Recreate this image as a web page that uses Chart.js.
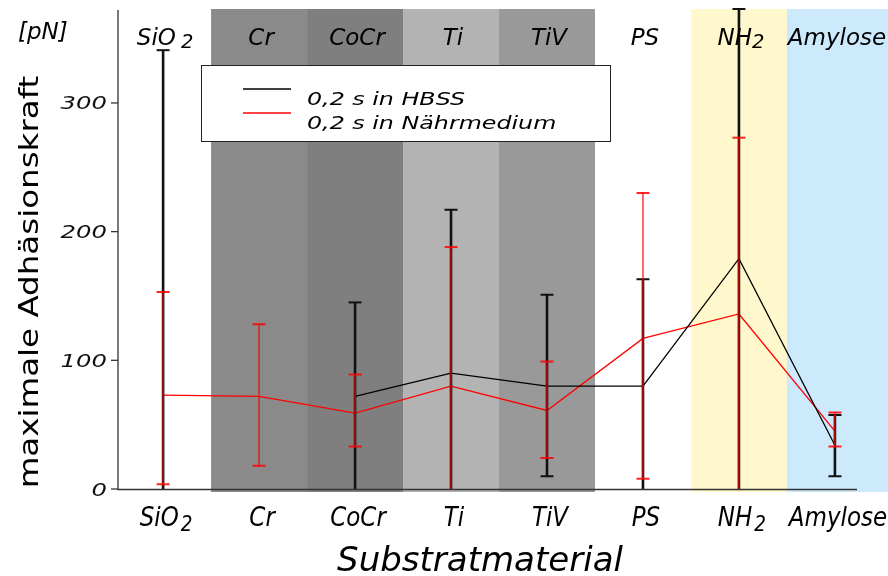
<!DOCTYPE html>
<html>
<head>
<meta charset="utf-8">
<script src="https://cdn.jsdelivr.net/npm/chart.js@4/dist/chart.umd.min.js"></script>
<style>
  html, body { margin: 0; padding: 0; background: #fff; }
  #wrap { width: 888px; height: 576px; position: relative; }
</style>
</head>
<body>
<div id="wrap"><canvas id="c"></canvas></div>
<script>
// Substrates on the x axis (₂ is drawn as a lowered subscript)
const categories = ['SiO₂', 'Cr', 'CoCr', 'Ti', 'TiV', 'PS', 'NH₂', 'Amylose'];

// Maximum adhesion force [pN], 0.2 s contact in HBSS
const hbssMean  = [null, null, 72, 90, 80, 80, 179, 34];
const hbssUpper = [341, null, 145, 217, 151, 163, 373, 57.5];
const hbssLower = [-1, null, -1, -37, 10, -3, -15, 10];

// Maximum adhesion force [pN], 0.2 s contact in culture medium
const mediumMean  = [73, 72, 59, 80, 61, 117, 136, 45];
const mediumUpper = [153, 128, 89, 188, 99, 230, 273, 59.5];
const mediumLower = [3.6, 18, 33, -28, 24, 8, -1, 33];

const yTicks = [0, 100, 200, 300];
const seriesLabels = ['0,2 s in HBSS', '0,2 s in Nährmedium'];
const yTitle = 'maximale Adhäsionskraft';
const xTitle = 'Substratmaterial';
const yUnit = '[pN]';

// Background shading behind each substrate column
const bandColors = ['#ffffff', '#8a8a8a', '#7f7f7f', '#b3b3b3', '#999999', '#ffffff', '#fff8cc', '#cceafc'];

const FAMILY = '"DejaVu Sans", "Liberation Sans", sans-serif';

// Draws text with optional subscript "₂", anisotropic scaling and rotation.
function drawRich(ctx, text, x, y, o) {
  const size = o.size, italic = o.italic ? 'italic ' : '';
  const subScale = o.subScale || 0.8, subShift = o.subShift || 0.22, subGap = o.subGap || 0;
  const parts = [];
  for (const ch of text) {
    const sub = ch === '₂';
    const c = sub ? '2' : ch;
    const last = parts[parts.length - 1];
    if (last && last.sub === sub) last.t += c; else parts.push({ t: c, sub });
  }
  ctx.save();
  ctx.translate(x, y);
  if (o.rot) ctx.rotate(o.rot);
  ctx.scale(o.sx || 1, o.sy || 1);
  ctx.textBaseline = 'alphabetic';
  ctx.textAlign = 'left';
  ctx.fillStyle = o.color || '#000';
  let total = 0;
  for (const p of parts) {
    ctx.font = italic + (p.sub ? size * subScale : size) + 'px ' + FAMILY;
    p.w = ctx.measureText(p.t).width + (p.sub ? subGap : 0);
    total += p.w;
  }
  let cx = o.align === 'center' ? -total / 2 : (o.align === 'right' ? -total : 0);
  for (const p of parts) {
    ctx.font = italic + (p.sub ? size * subScale : size) + 'px ' + FAMILY;
    ctx.fillText(p.t, cx + (p.sub ? subGap : 0), p.sub ? size * subShift : 0);
    cx += p.w;
  }
  ctx.restore();
}

const bandsPlugin = {
  id: 'bands',
  beforeDatasetsDraw(chart) {
    const { ctx, chartArea, scales: { x } } = chart;
    ctx.save();
    categories.forEach((c, i) => {
      const l = x.getPixelForValue(i - 0.5);
      const r = i === categories.length - 1 ? chart.width : x.getPixelForValue(i + 0.5);
      ctx.fillStyle = bandColors[i];
      ctx.fillRect(l, chartArea.top, r - l, chartArea.bottom - chartArea.top + 3);
    });
    ctx.restore();
  }
};

function drawErrorBars(chart, upper, lower, color, lw, capW, capLw) {
  const { ctx, scales: { x, y } } = chart;
  ctx.save();
  ctx.strokeStyle = color;
  for (let i = 0; i < upper.length; i++) {
    if (upper[i] == null) continue;
    const px = x.getPixelForValue(i);
    const hi = Math.min(upper[i], y.max), lo = Math.max(lower[i], y.min);
    ctx.lineWidth = lw;
    ctx.beginPath();
    ctx.moveTo(px, y.getPixelForValue(lo));
    ctx.lineTo(px, y.getPixelForValue(hi));
    ctx.stroke();
    ctx.lineWidth = capLw;
    ctx.beginPath();
    if (upper[i] <= y.max) {
      const py = y.getPixelForValue(hi);
      ctx.moveTo(px - capW / 2, py); ctx.lineTo(px + capW / 2, py);
    }
    if (lower[i] >= y.min) {
      const py = y.getPixelForValue(lo);
      ctx.moveTo(px - capW / 2, py); ctx.lineTo(px + capW / 2, py);
    }
    ctx.stroke();
  }
  ctx.restore();
}

const decorPlugin = {
  id: 'decor',
  afterDatasetsDraw(chart) {
    const { ctx, chartArea, scales: { x, y } } = chart;

    drawErrorBars(chart, hbssUpper, hbssLower, '#111', 2.6, 13, 2);
    drawErrorBars(chart, mediumUpper, mediumLower, 'rgba(255,0,0,0.85)', 1.4, 13, 2);

    // axes
    ctx.save();
    ctx.strokeStyle = '#333';
    ctx.lineWidth = 1.3;
    ctx.beginPath();
    ctx.moveTo(chartArea.left, chartArea.top + 1);
    ctx.lineTo(chartArea.left, chartArea.bottom + 0.5);
    ctx.lineTo(chartArea.right, chartArea.bottom + 0.5);
    ctx.stroke();
    yTicks.forEach(v => {
      const py = y.getPixelForValue(v);
      ctx.beginPath();
      ctx.moveTo(chartArea.left - 7, py);
      ctx.lineTo(chartArea.left, py);
      ctx.stroke();
      drawRich(ctx, String(v), chartArea.left - 11, py + 6.5, { size: 18, italic: true, sx: 1.35, align: 'right', color: '#111' });
    });
    ctx.restore();

    // category labels above and below
    categories.forEach((c, i) => {
      const px = x.getPixelForValue(i);
      drawRich(ctx, c, px + 2, 45, { size: 23, italic: true, align: 'center', subScale: 0.85, subShift: 0.15, subGap: c === 'SiO₂' ? 5 : 0 });
      drawRich(ctx, c, px + 3, 526, { size: 23, italic: true, sy: 1.12, align: 'center', subScale: 0.8, subShift: 0.2, subGap: 2 });
    });

    // titles
    drawRich(ctx, xTitle, 480, 571, { size: 34, italic: true, align: 'center' });
    drawRich(ctx, yTitle, 38, 282, { size: 26, rot: -Math.PI / 2, sx: 1.25, align: 'center' });
    drawRich(ctx, yUnit, 18, 39, { size: 23, italic: true });

    // legend box
    ctx.save();
    ctx.fillStyle = '#fff';
    ctx.fillRect(201, 65, 409, 76);
    ctx.strokeStyle = '#222';
    ctx.lineWidth = 1;
    ctx.strokeRect(201.5, 65.5, 409, 76);
    const ds = chart.data.datasets;
    [89, 113].forEach((ly, k) => {
      ctx.strokeStyle = ds[k].borderColor;
      ctx.lineWidth = 1.3;
      ctx.beginPath();
      ctx.moveTo(243, ly); ctx.lineTo(291, ly);
      ctx.stroke();
      drawRich(ctx, ds[k].label, 307, ly + 16, { size: 18, italic: true, sx: 1.32 });
    });
    ctx.restore();
  }
};

new Chart(document.getElementById('c'), {
  type: 'line',
  data: {
    datasets: [
      {
        label: seriesLabels[0],
        data: hbssMean.map((v, i) => ({ x: i, y: v })),
        borderColor: '#000',
        borderWidth: 1.3,
        pointRadius: 0,
        tension: 0,
        spanGaps: false
      },
      {
        label: seriesLabels[1],
        data: mediumMean.map((v, i) => ({ x: i, y: v })),
        borderColor: '#ff0000',
        borderWidth: 1.3,
        pointRadius: 0,
        tension: 0,
        spanGaps: false
      }
    ]
  },
  options: {
    responsive: true,
    maintainAspectRatio: false,
    animation: false,
    layout: { padding: { left: 118, top: 9, right: 31, bottom: 87 } },
    plugins: { legend: { display: false }, tooltip: { enabled: false } },
    scales: {
      x: { type: 'linear', min: -0.47, max: 7.23, display: false },
      y: { min: 0, max: 373, display: false }
    }
  },
  plugins: [bandsPlugin, decorPlugin]
});
</script>
</body>
</html>
